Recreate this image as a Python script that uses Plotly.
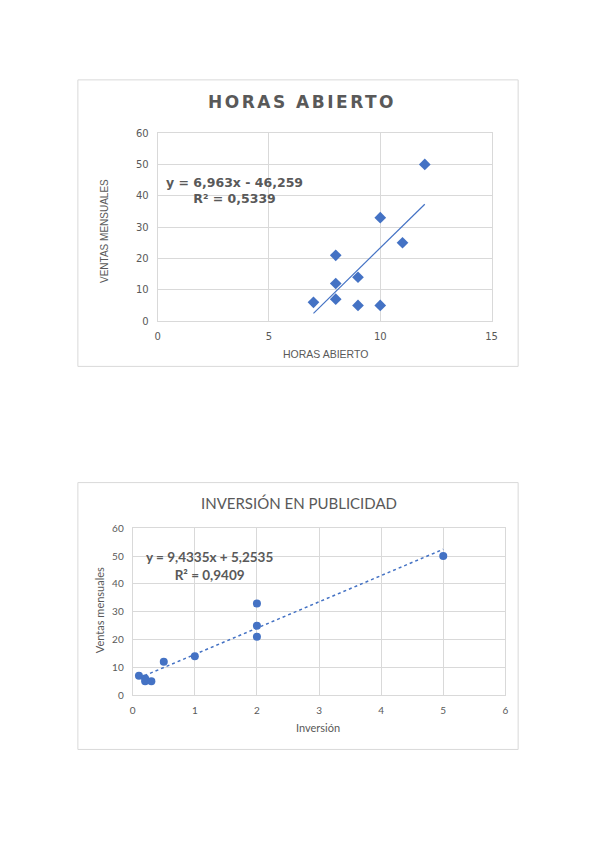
import plotly.graph_objects as go

# ---- Data: chart 1 (HORAS ABIERTO) ----
horas = [7, 8, 8, 8, 9, 9, 10, 10, 11, 12]
ventas_horas = [6, 21, 12, 7, 14, 5, 33, 5, 25, 50]
trend1_slope = 6.963
trend1_intercept = -46.259
eq1_text = "y = 6,963x - 46,259<br>R² = 0,5339"
x1_ticks = [0, 5, 10, 15]
y_ticks = [0, 10, 20, 30, 40, 50, 60]

# ---- Data: chart 2 (INVERSIÓN EN PUBLICIDAD) ----
inversion = [0.1, 0.2, 0.2, 0.3, 0.5, 1, 2, 2, 2, 5]
ventas_inv = [7, 6, 5, 5, 12, 14, 33, 25, 21, 50]
trend2_slope = 9.4335
trend2_intercept = 5.2535
eq2_text = "y = 9,4335x + 5,2535<br>R² = 0,9409"
x2_ticks = [0, 1, 2, 3, 4, 5, 6]

BLUE = "#4472C4"
GRID = "#d9d9d9"
TXT = "#595959"
W, H = 600, 848


def px(x):
    return x / W


def py(y):
    return 1 - y / H


fig = go.Figure()

# chart 1 points + trendline
fig.add_trace(go.Scatter(x=horas, y=ventas_horas, mode="markers",
                         marker=dict(symbol="diamond", size=9, color=BLUE),
                         xaxis="x", yaxis="y", showlegend=False))
t1x = [min(horas), max(horas)]
t1y = [trend1_slope * v + trend1_intercept for v in t1x]
fig.add_trace(go.Scatter(x=t1x, y=t1y, mode="lines",
                         line=dict(color=BLUE, width=1.2),
                         xaxis="x", yaxis="y", showlegend=False))

# chart 2 points + trendline
fig.add_trace(go.Scatter(x=inversion, y=ventas_inv, mode="markers",
                         marker=dict(symbol="circle", size=8, color=BLUE),
                         xaxis="x2", yaxis="y2", showlegend=False))
t2x = [min(inversion), max(inversion)]
t2y = [trend2_slope * v + trend2_intercept for v in t2x]
fig.add_trace(go.Scatter(x=t2x, y=t2y, mode="lines",
                         line=dict(color=BLUE, width=1.5, dash="dot"),
                         xaxis="x2", yaxis="y2", showlegend=False))

f1 = "DejaVu Sans"
f2 = "Lato"

axis_common = dict(showgrid=True, gridcolor=GRID, gridwidth=1, zeroline=False,
                   showline=True, linecolor=GRID, linewidth=1, mirror=True,
                   ticks="", fixedrange=True)

fig.update_layout(
    width=W, height=H,
    margin=dict(l=0, r=0, t=0, b=0),
    paper_bgcolor="white", plot_bgcolor="white",
    xaxis=dict(domain=[px(157), px(496)], range=[0, 15], tickvals=x1_ticks,
               tickfont=dict(family=f1, size=10, color=TXT), anchor="y",
               ticklabelstandoff=6, **axis_common),
    yaxis=dict(domain=[py(319), py(128)], range=[0, 60], tickvals=y_ticks,
               tickfont=dict(family=f1, size=10, color=TXT), anchor="x",
               ticklabelstandoff=6, **axis_common),
    xaxis2=dict(domain=[px(131.7), px(510)], range=[0, 6], tickvals=x2_ticks,
                tickfont=dict(family=f2, size=10, color=TXT), anchor="y2",
                ticklabelstandoff=6, **axis_common),
    yaxis2=dict(domain=[py(699), py(529.3)], range=[0, 60], tickvals=y_ticks,
                tickfont=dict(family=f2, size=10, color=TXT), anchor="x2",
                ticklabelstandoff=6, **axis_common),
)

shapes = [
    dict(type="rect", xref="paper", yref="paper",
         x0=px(76), x1=px(523), y0=py(365), y1=py(74),
         line=dict(color=GRID, width=1), layer="below"),
    dict(type="rect", xref="paper", yref="paper",
         x0=px(76), x1=px(523), y0=py(754), y1=py(483),
         line=dict(color=GRID, width=1), layer="below"),
]
fig.update_layout(shapes=shapes)

ann = [
    # chart 1 title
    dict(text="<span style=\"letter-spacing:2.5px\"><b>HORAS ABIERTO</b></span>",
         x=px(304), y=py(96),
         font=dict(family=f1, size=17, color=TXT)),
    # chart 1 equation
    dict(text="<b>" + eq1_text + "</b>", x=px(235), y=py(186),
         font=dict(family=f1, size=12.5, color=TXT), align="center"),
    # chart 1 axis titles
    dict(text="VENTAS MENSUALES", x=px(103), y=py(227), textangle=-90,
         font=dict(family="Liberation Sans Narrow, Liberation Sans", size=10, color=TXT)),
    dict(text="HORAS ABIERTO", x=px(327), y=py(352),
         font=dict(family="Liberation Sans Narrow, Liberation Sans", size=10.5, color=TXT)),
    # chart 2 title
    dict(text="INVERSIÓN EN PUBLICIDAD", x=px(300.5), y=py(504),
         font=dict(family=f2, size=15, color=TXT)),
    # chart 2 equation
    dict(text="<b>" + eq2_text + "</b>", x=px(209.5), y=py(568),
         font=dict(family=f2, size=13.5, color=TXT), align="center"),
    # chart 2 axis titles
    dict(text="Ventas mensuales", x=px(98), y=py(613), textangle=-90,
         font=dict(family=f2, size=11, color=TXT)),
    dict(text="Inversión", x=px(320), y=py(732),
         font=dict(family=f2, size=11, color=TXT)),
]
for a in ann:
    a.update(xref="paper", yref="paper", showarrow=False,
             xanchor="center", yanchor="middle")
fig.update_layout(annotations=ann)

fig.write_html(
    "out.html",
    config={"displayModeBar": False},
    post_script="document.body.style.margin='0';document.body.style.overflow='hidden';",
)
